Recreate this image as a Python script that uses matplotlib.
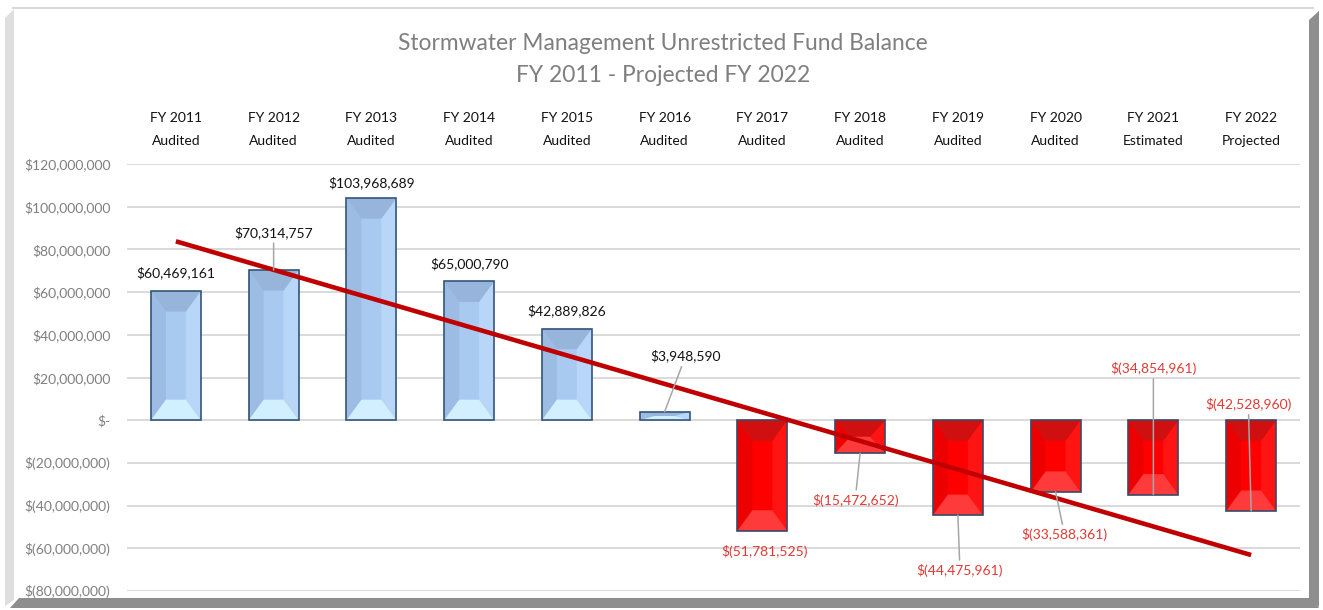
"""Stormwater fund balance chart, Excel style bevelled bars with a linear trend line."""
import matplotlib

matplotlib.use("Agg")
import matplotlib.pyplot as plt
import numpy as np
from matplotlib.patches import Polygon
from matplotlib.transforms import blended_transform_factory

FIG_W, FIG_H = 1323, 610
DPI = 100

years = ["FY 2011", "FY 2012", "FY 2013", "FY 2014", "FY 2015", "FY 2016",
         "FY 2017", "FY 2018", "FY 2019", "FY 2020", "FY 2021", "FY 2022"]
status = ["Audited", "Audited", "Audited", "Audited", "Audited", "Audited",
          "Audited", "Audited", "Audited", "Audited", "Estimated", "Projected"]
balances = [60469161, 70314757, 103968689, 65000790, 42889826, 3948590,
            -51781525, -15472652, -44475961, -33588361, -34854961, -42528960]
y_ticks = [-80000000, -60000000, -40000000, -20000000, 0,
           20000000, 40000000, 60000000, 80000000, 100000000, 120000000]

# where each data label sits, in points from the end of its bar
label_offsets = [(0, 13), (0, 27), (0, 11.5), (0, 13), (0, 13), (15, 40),
                 (1.8, -15), (-3.6, -34), (1.5, -40), (6.5, -31), (0, 91), (-2, 77)]

FONT = "Lato"
BAR_WIDTH = 0.51
BEVEL_DEPTH = 9.6e6
TEXT_GRAY = "#7f7f7f"
GRID = "#d9d9d9"
RED_TEXT = "#e03a35"
TREND = "#c00000"
AX_H_PX = 427

BLUE = {"face": "#a9caf0", "top": "#97b5da", "bottom": "#d2efff",
        "left": "#9cbce3", "right": "#b8d7f8", "edge": "#34557a"}
RED = {"face": "#ff0000", "top": "#d01010", "bottom": "#ff3a3a",
       "left": "#ec0000", "right": "#ff1414", "edge": "#3b4a66"}


def money(value: float) -> str:
    """Format like Excel: $1,234 / $(1,234) / $-."""
    if value == 0:
        return "$-"
    if value < 0:
        return f"$({-value:,.0f})"
    return f"${value:,.0f}"


def px(x: float, y: float) -> tuple[float, float]:
    """Pixel position (from top left) to figure fraction."""
    return x / FIG_W, 1 - y / FIG_H


def frame_piece(fig, points, color):
    fig.add_artist(Polygon([px(x, y) for x, y in points], closed=True,
                           transform=fig.transFigure, facecolor=color,
                           edgecolor="none", zorder=0))


def draw_bevel(ax, x, value, colors):
    top, bottom = max(value, 0), min(value, 0)
    depth = min(BEVEL_DEPTH, (top - bottom) / 2)
    side = BAR_WIDTH * 0.3
    left, right = x - BAR_WIDTH / 2, x + BAR_WIDTH / 2
    pieces = {
        "left": [(left, top), (left + side, top - depth), (left + side, bottom + depth), (left, bottom)],
        "right": [(right, top), (right - side, top - depth), (right - side, bottom + depth), (right, bottom)],
        "top": [(left, top), (right, top), (right - side, top - depth), (left + side, top - depth)],
        "bottom": [(left, bottom), (right, bottom), (right - side, bottom + depth), (left + side, bottom + depth)],
    }
    for name, pts in pieces.items():
        ax.add_patch(Polygon(pts, closed=True, facecolor=colors[name],
                             edgecolor="none", zorder=2.1))


fig = plt.figure(figsize=(FIG_W / DPI, FIG_H / DPI), dpi=DPI)
fig.patch.set_facecolor("white")

# 3D looking chart frame
frame_piece(fig, [(12, 7), (1314, 7), (1314, 9), (12, 9)], "#d9d9d9")
frame_piece(fig, [(5, 18), (14, 9), (14, 600), (5, 606)], "#dedede")
frame_piece(fig, [(1309, 20), (1319, 11), (1319, 607), (1309, 599)], "#8e8e8e")
frame_piece(fig, [(10, 608), (19, 598), (1312, 598), (1319, 608)], "#8e8e8e")

ax = fig.add_axes([127 / FIG_W, 1 - 591 / FIG_H, 1173 / FIG_W, AX_H_PX / FIG_H])
ax.set_facecolor("none")

x = np.arange(len(balances))
styles = [BLUE if v >= 0 else RED for v in balances]

ax.bar(x, balances, BAR_WIDTH, color=[s["face"] for s in styles],
       edgecolor="none", zorder=2)
for xi, value, style in zip(x, balances, styles):
    draw_bevel(ax, xi, value, style)
ax.bar(x, balances, BAR_WIDTH, fill=False,
       edgecolor=[s["edge"] for s in styles], linewidth=1.2, zorder=2.2)

# linear trend line
coeffs = np.polyfit(x, balances, 1)
ax.plot(x, np.polyval(coeffs, x), color=TREND, linewidth=3.3,
        solid_capstyle="butt", zorder=5)

# data labels
for xi, value, (dx, dy) in zip(x, balances, label_offsets):
    arrow = None
    if abs(dy) > 20:
        arrow = dict(arrowstyle="-", color="#a6a6a6", linewidth=1.1,
                     shrinkA=1, shrinkB=0)
    ax.annotate(money(value), xy=(xi, value), xytext=(dx, dy),
                textcoords="offset points", ha="center", va="center",
                fontsize=10, family=FONT,
                color="#111111" if value >= 0 else RED_TEXT,
                arrowprops=arrow, zorder=6)

# category labels above the plot
top_trans = blended_transform_factory(ax.transData, ax.transAxes)
for xi, year, state in zip(x, years, status):
    ax.text(xi, 1 + 46 / AX_H_PX, year, transform=top_trans, ha="center",
            va="center", fontsize=10, family=FONT, color="#111111")
    ax.text(xi, 1 + 23 / AX_H_PX, state, transform=top_trans, ha="center",
            va="center", fontsize=10, family=FONT, color="#111111")

ax.set_xlim(-0.5, len(balances) - 0.5)
ax.set_ylim(y_ticks[0], y_ticks[-1])
ax.set_yticks(y_ticks)
ax.set_yticklabels([money(v) for v in y_ticks], family=FONT, fontsize=10,
                   color=TEXT_GRAY)
ax.set_xticks([])
ax.tick_params(axis="y", length=0, pad=12)
ax.yaxis.grid(True, color=GRID, linewidth=1.4, zorder=0)
ax.set_axisbelow(True)
for spine in ax.spines.values():
    spine.set_visible(False)

fig.text(663 / FIG_W, 1 - 43 / FIG_H, "Stormwater Management Unrestricted Fund Balance",
         ha="center", va="center", fontsize=16.4, family=FONT, color=TEXT_GRAY)
fig.text(663 / FIG_W, 1 - 75 / FIG_H, "FY 2011 - Projected FY 2022",
         ha="center", va="center", fontsize=16.4, family=FONT, color=TEXT_GRAY)

fig.savefig("out.png", dpi=DPI, facecolor=fig.get_facecolor())
